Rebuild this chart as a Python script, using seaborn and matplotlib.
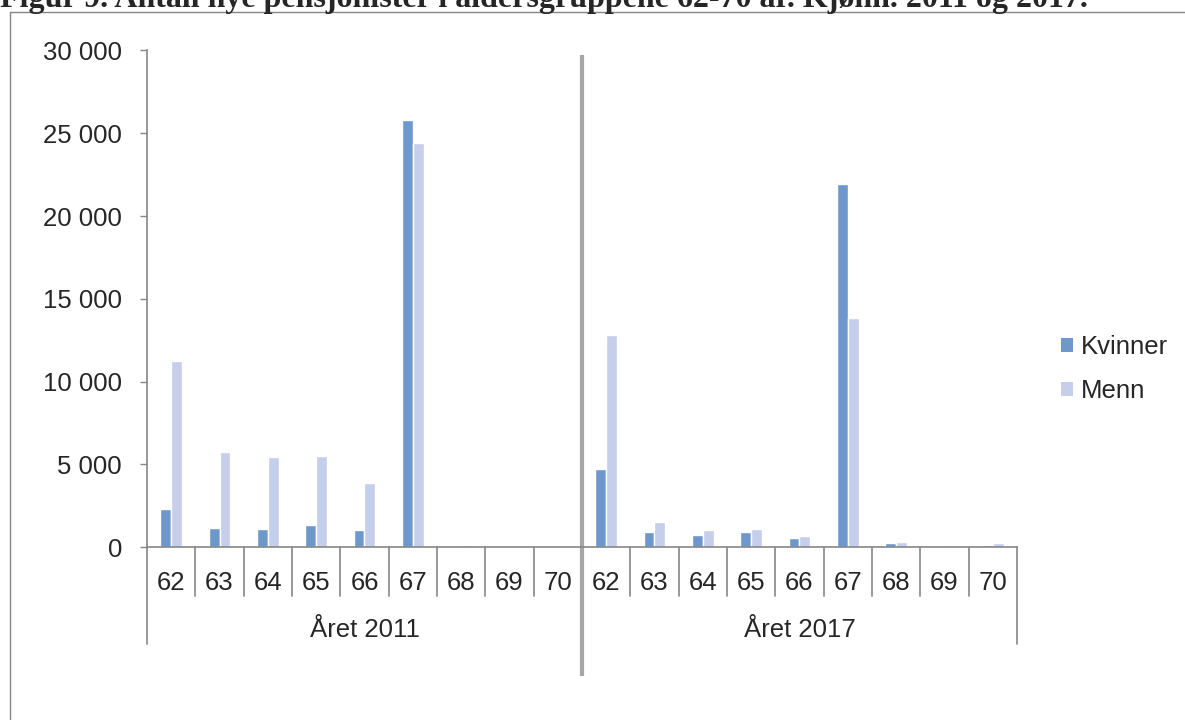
import pandas as pd
import numpy as np
import matplotlib
matplotlib.use("Agg")
import matplotlib.pyplot as plt
import seaborn as sns
from matplotlib.lines import Line2D
from matplotlib.patches import Patch
from matplotlib.transforms import blended_transform_factory

# ============================================================
# DATA
# ============================================================

aar = ["Året 2011", "Året 2017"]
alder = ["62", "63", "64", "65", "66", "67", "68", "69", "70"]

kvinner_2011 = [2310, 1150, 1110, 1350, 1070, 25800, 100, 40, 20]
menn_2011 = [11250, 5770, 5450, 5530, 3880, 24400, 150, 60, 30]
kvinner_2017 = [4710, 920, 740, 920, 560, 21940, 260, 100, 110]
menn_2017 = [12820, 1530, 1050, 1120, 680, 13850, 320, 150, 230]

kjonn = ["Kvinner", "Menn"]
farger = ["#6E97CC", "#C5CEEA"]

y_ticks = [0, 5000, 10000, 15000, 20000, 25000, 30000]

# ============================================================
# TABELL
# ============================================================

rows = []
for a, kv, me in [(aar[0], kvinner_2011, menn_2011), (aar[1], kvinner_2017, menn_2017)]:
    for al, k, m in zip(alder, kv, me):
        rows.append({"key": a + "-" + al, "alder": al, "aar": a, "kjonn": "Kvinner", "antall": k})
        rows.append({"key": a + "-" + al, "alder": al, "aar": a, "kjonn": "Menn", "antall": m})
df = pd.DataFrame(rows)
order = list(dict.fromkeys(df["key"]))

# ============================================================
# FIGUR
# ============================================================

sns.set_style("white")
plt.rcParams["font.family"] = ["Liberation Sans", "DejaVu Sans"]
fs = 18.5

fig = plt.figure(figsize=(11.85, 7.2), dpi=100)
ax = fig.add_axes([147 / 1185, 1 - 547.3 / 720, 870 / 1185, 496.8 / 720])

sns.barplot(
    data=df, x="key", y="antall", hue="kjonn",
    order=order, hue_order=kjonn, palette=farger,
    width=0.455, saturation=1, errorbar=None, legend=False, ax=ax
)

grey = "#868686"
ax.set_xlim(-0.5, len(order) - 0.5)
ax.set_ylim(0, 30000)
ax.set_yticks(y_ticks)
ax.set_yticklabels([f"{v:,}".replace(",", " ") for v in y_ticks], fontsize=fs)
ax.tick_params(axis="y", length=5, width=1, color=grey, direction="out", pad=13, left=True)
ax.set_xticks(range(len(order)))
ax.set_xticklabels(alder * 2, fontsize=fs)
ax.tick_params(axis="x", length=0, pad=17)
ax.set_xlabel("")
ax.set_ylabel("")
for s in ["top", "right"]:
    ax.spines[s].set_visible(False)
for s in ["left", "bottom"]:
    ax.spines[s].set_color(grey)
    ax.spines[s].set_linewidth(1.2)

trans = blended_transform_factory(ax.transData, ax.transAxes)
n = len(alder)
for i in range(len(order) + 1):
    b = i - 0.5
    bunn = -0.1946 if i % n == 0 else -0.098
    ax.plot([b, b], [0, bunn], color=grey, lw=1.2, transform=trans, clip_on=False)

for j, a in enumerate(aar):
    ax.text(j * n + (n - 1) / 2, -0.166, a, transform=trans,
            ha="center", va="center", fontsize=fs)

# skillelinje mellom årene
ax.plot([n - 0.5, n - 0.5], [-0.259, 0.991], color="#A6A6A6", lw=3,
        transform=trans, clip_on=False, solid_capstyle="butt")

handles = [Patch(facecolor=c, edgecolor="none") for c in farger]
ax.legend(handles, kjonn, loc="center left", bbox_to_anchor=(1061 / 1185, 1 - 369 / 720),
          bbox_transform=fig.transFigure, frameon=False, fontsize=fs,
          handlelength=0.47, handleheight=0.47, handletextpad=0.31,
          labelspacing=0.78, borderpad=0, borderaxespad=0)

# ramme og tittel
fig.add_artist(Line2D([10 / 1185, 10 / 1185], [0, 1 - 12 / 720], color=grey, lw=1))
fig.add_artist(Line2D([10 / 1185, 1], [1 - 12 / 720, 1 - 12 / 720], color=grey, lw=1))
fig.text(0.0, 1 - 7.5 / 720, "Figur 9. Antall nye pensjonister i aldersgruppene 62-70 år. Kjønn. 2011 og 2017.",
         family=["Liberation Serif", "DejaVu Serif"], weight="bold", fontsize=23,
         ha="left", va="baseline")

fig.savefig("out.png", dpi=100)
